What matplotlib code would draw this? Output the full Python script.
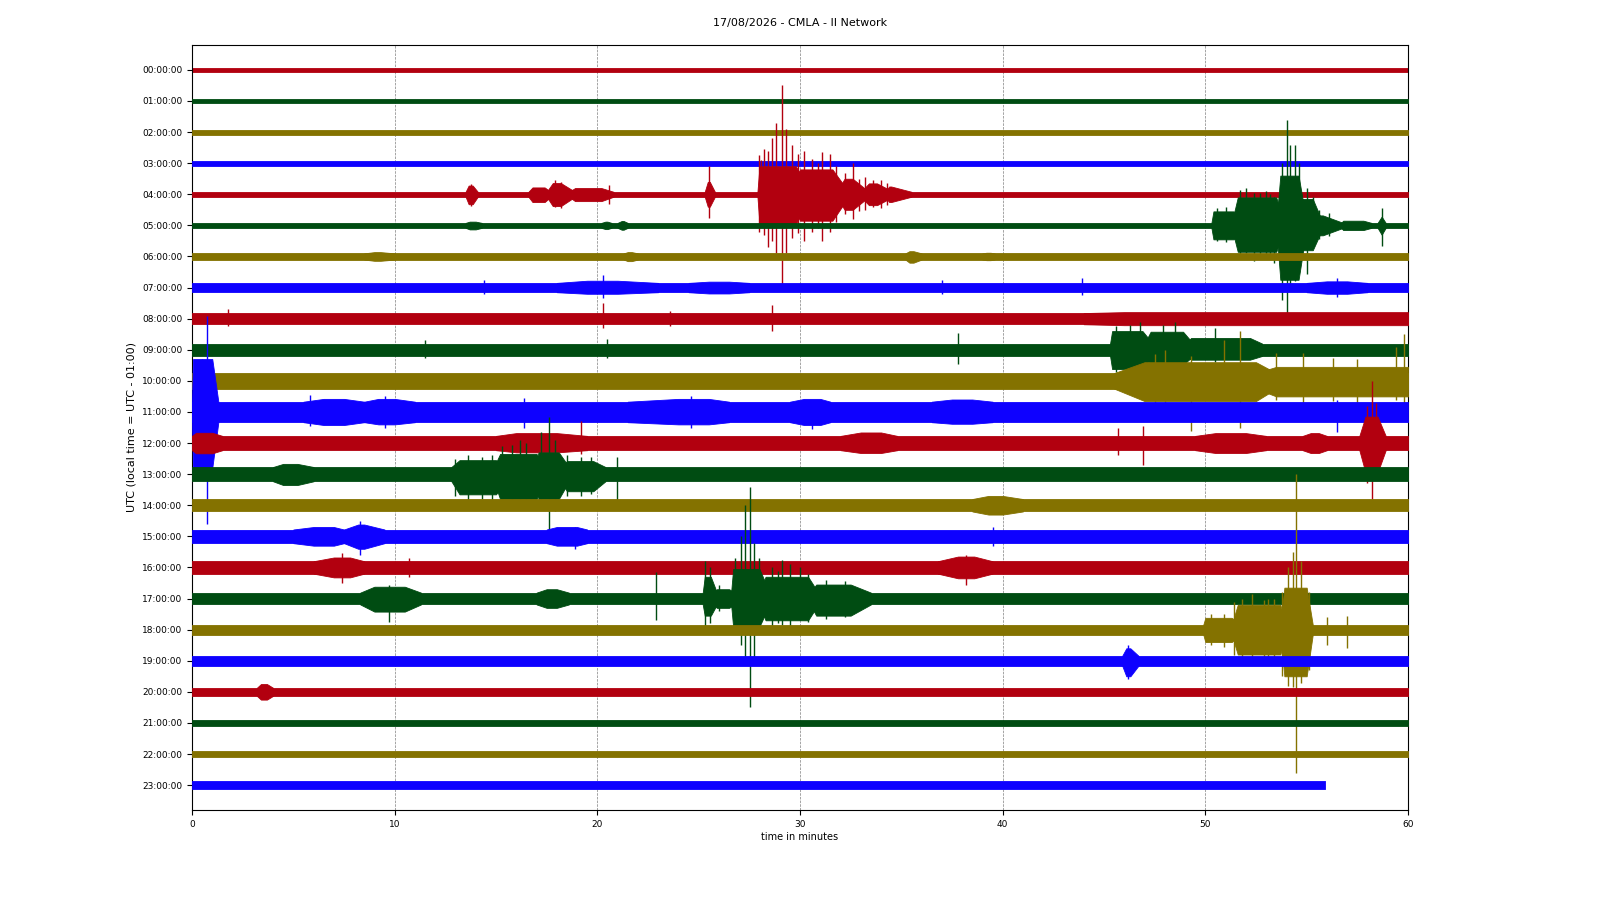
import matplotlib
matplotlib.use('Agg')
import matplotlib.pyplot as plt

# helicorder rows, one per hour
hours = ['00:00:00', '01:00:00', '02:00:00', '03:00:00', '04:00:00', '05:00:00',
         '06:00:00', '07:00:00', '08:00:00', '09:00:00', '10:00:00', '11:00:00',
         '12:00:00', '13:00:00', '14:00:00', '15:00:00', '16:00:00', '17:00:00',
         '18:00:00', '19:00:00', '20:00:00', '21:00:00', '22:00:00', '23:00:00']
trace_colors = ['#B2000F', '#004C12', '#847200', '#0E01FF']

# background noise half-width of each row (in row spacings)
noise_amp = [0.075, 0.075, 0.08, 0.075, 0.08, 0.08, 0.1, 0.15, 0.18, 0.2, 0.25, 0.33,
             0.23, 0.23, 0.2, 0.22, 0.2, 0.19, 0.16, 0.16, 0.13, 0.1, 0.11, 0.13]
trace_end = [60] * 23 + [55.9]

# wave trains: (row, start, rise end, decay start, end, half-width up, half-width down)
bursts = [
    (4, 13.5, 13.65, 13.85, 14.1, 0.28, 0.32),
    (4, 16.6, 16.8, 17.4, 17.7, 0.22, 0.25),
    (4, 17.5, 17.8, 18.2, 18.9, 0.36, 0.38),
    (4, 18.6, 18.9, 20.2, 20.8, 0.2, 0.22),
    (4, 25.3, 25.45, 25.55, 25.8, 0.4, 0.4),
    (4, 27.9, 28.0, 29.8, 30.5, 0.9, 0.95),
    (4, 29.5, 30.0, 31.6, 32.4, 0.8, 0.85),
    (4, 31.8, 32.2, 32.6, 33.4, 0.5, 0.5),
    (4, 33.0, 33.4, 33.8, 34.6, 0.35, 0.35),
    (4, 34.2, 34.4, 34.5, 35.5, 0.25, 0.25),
    (5, 13.5, 13.7, 14.0, 14.3, 0.12, 0.13),
    (5, 20.2, 20.4, 20.5, 20.7, 0.12, 0.12),
    (5, 21.0, 21.2, 21.3, 21.5, 0.14, 0.14),
    (5, 50.3, 50.4, 51.4, 51.8, 0.45, 0.45),
    (5, 51.3, 51.6, 53.5, 53.9, 0.9, 0.85),
    (5, 53.5, 53.7, 54.6, 55.0, 1.6, 1.75),
    (5, 54.5, 54.8, 55.3, 55.8, 0.85, 0.8),
    (5, 55.4, 55.6, 55.8, 56.8, 0.32, 0.32),
    (5, 56.7, 56.8, 57.8, 58.2, 0.15, 0.15),
    (5, 58.5, 58.7, 58.7, 58.9, 0.28, 0.3),
    (6, 8.5, 9.0, 9.3, 10.0, 0.14, 0.14),
    (6, 21.3, 21.5, 21.7, 22.0, 0.14, 0.15),
    (6, 35.2, 35.4, 35.6, 36.0, 0.17, 0.2),
    (6, 39.0, 39.2, 39.4, 39.6, 0.12, 0.12),
    (7, 18.0, 19.5, 21.0, 23.0, 0.22, 0.2),
    (7, 24.5, 25.5, 26.5, 27.5, 0.19, 0.19),
    (7, 55.0, 56.0, 57.0, 58.0, 0.2, 0.2),
    (8, 44.0, 46.0, 60.0, 60.0, 0.21, 0.21),
    (9, 45.3, 45.4, 46.9, 47.4, 0.6, 0.62),
    (9, 47.0, 47.3, 48.9, 49.4, 0.58, 0.48),
    (9, 49.0, 49.3, 52.2, 52.8, 0.38, 0.32),
    (10, 45.5, 47.0, 52.5, 53.5, 0.6, 0.65),
    (10, 52.5, 53.5, 60.0, 60.0, 0.45, 0.5),
    (11, 0.0, 0.05, 1.0, 1.3, 1.7, 1.8),
    (11, 5.5, 6.5, 7.5, 8.5, 0.42, 0.42),
    (11, 8.5, 9.2, 10.0, 11.0, 0.42, 0.4),
    (11, 21.5, 24.0, 25.5, 26.5, 0.42, 0.4),
    (11, 29.5, 30.2, 31.0, 31.5, 0.42, 0.42),
    (11, 36.5, 37.5, 38.5, 39.5, 0.4, 0.38),
    (12, 0.0, 0.2, 1.0, 1.5, 0.33, 0.33),
    (12, 15.0, 16.0, 18.0, 19.5, 0.32, 0.3),
    (12, 32.0, 33.0, 34.0, 34.8, 0.34, 0.32),
    (12, 49.5, 50.5, 52.0, 53.0, 0.32, 0.32),
    (12, 54.8, 55.2, 55.6, 56.0, 0.32, 0.32),
    (12, 57.6, 57.9, 58.5, 58.9, 0.85, 0.95),
    (13, 4.0, 4.5, 5.2, 6.0, 0.33, 0.35),
    (13, 12.8, 13.2, 15.0, 15.5, 0.45, 0.65),
    (13, 14.9, 15.2, 17.0, 17.4, 0.65, 0.8),
    (13, 16.9, 17.1, 18.1, 18.6, 0.7, 0.8),
    (13, 18.2, 18.5, 19.8, 20.4, 0.42, 0.55),
    (14, 38.5, 39.3, 40.0, 41.0, 0.3, 0.3),
    (15, 5.0, 6.0, 7.0, 7.5, 0.3, 0.3),
    (15, 7.5, 8.2, 8.5, 9.5, 0.38, 0.4),
    (15, 17.5, 18.0, 19.0, 19.5, 0.3, 0.3),
    (16, 6.0, 7.0, 7.8, 8.5, 0.32, 0.32),
    (16, 36.8, 37.8, 38.6, 39.5, 0.35, 0.35),
    (17, 8.3, 9.0, 10.5, 11.3, 0.38, 0.42),
    (17, 17.0, 17.5, 18.0, 18.6, 0.3, 0.3),
    (17, 25.2, 25.3, 25.6, 25.9, 0.7, 0.55),
    (17, 25.7, 25.9, 26.5, 26.8, 0.3, 0.3),
    (17, 26.6, 26.7, 28.0, 28.5, 0.95, 0.9),
    (17, 28.0, 28.3, 30.4, 30.9, 0.7, 0.7),
    (17, 30.5, 30.8, 32.5, 33.5, 0.45, 0.55),
    (18, 49.9, 50.0, 51.3, 51.7, 0.38, 0.4),
    (18, 51.3, 51.6, 53.7, 54.0, 0.8, 0.8),
    (18, 53.7, 53.9, 55.0, 55.3, 1.35, 1.5),
    (19, 45.9, 46.1, 46.3, 46.7, 0.4, 0.5),
    (20, 3.2, 3.4, 3.7, 4.0, 0.25, 0.25),
]

# isolated large excursions: (row, minute, reach up, reach down)
spikes = [
    (4, 13.75, 0.33, 0.38), (4, 17.9, 0.45, 0.4), (4, 18.2, 0.4, 0.45), (4, 20.6, 0.3, 0.3),
    (4, 25.5, 0.9, 0.75), (4, 28.0, 1.25, 1.2), (4, 28.1, 1.1, 1.0), (4, 28.2, 1.45, 1.3),
    (4, 28.4, 1.4, 1.7), (4, 28.6, 1.8, 1.5), (4, 28.8, 2.3, 1.9), (4, 29.1, 3.5, 2.9),
    (4, 29.3, 2.1, 1.9), (4, 29.6, 1.6, 1.4), (4, 29.9, 1.3, 1.25), (4, 30.2, 1.4, 1.5),
    (4, 30.6, 1.15, 1.2), (4, 30.9, 1.0, 1.1), (4, 31.1, 1.35, 1.5), (4, 31.5, 1.3, 1.2),
    (4, 31.8, 0.9, 0.9), (4, 32.2, 0.7, 0.65), (4, 32.6, 1.0, 0.8), (4, 32.9, 0.5, 0.55),
    (4, 33.2, 0.55, 0.5), (4, 33.6, 0.45, 0.4), (4, 34.0, 0.45, 0.45), (4, 34.3, 0.35, 0.35),
    (5, 50.6, 0.55, 0.5), (5, 51.0, 0.6, 0.55), (5, 51.7, 1.15, 1.0), (5, 52.0, 1.2, 0.9),
    (5, 52.4, 1.05, 1.15), (5, 52.7, 1.05, 1.05), (5, 53.0, 1.1, 1.0), (5, 53.2, 1.0, 0.95),
    (5, 53.4, 0.9, 1.2), (5, 53.8, 2.0, 2.4), (5, 54.05, 3.4, 2.9), (5, 54.2, 2.6, 2.0),
    (5, 54.4, 2.6, 1.8), (5, 54.6, 2.0, 1.5), (5, 55.0, 1.2, 1.55), (5, 55.3, 0.9, 0.7),
    (5, 55.6, 0.5, 0.45), (5, 56.1, 0.4, 0.35), (5, 58.7, 0.57, 0.65),
    (7, 14.4, 0.25, 0.2), (7, 20.3, 0.4, 0.35), (7, 37.0, 0.25, 0.2), (7, 43.9, 0.3, 0.25),
    (7, 56.5, 0.3, 0.3),
    (8, 1.8, 0.3, 0.25), (8, 20.3, 0.5, 0.3), (8, 23.6, 0.25, 0.25), (8, 28.6, 0.45, 0.4),
    (9, 11.5, 0.3, 0.25), (9, 20.5, 0.35, 0.25), (9, 37.8, 0.55, 0.45), (9, 45.6, 0.75, 0.7),
    (9, 46.3, 0.8, 0.65), (9, 46.8, 0.9, 0.6), (9, 47.9, 0.8, 0.5), (9, 48.5, 0.9, 0.6),
    (9, 50.5, 0.7, 0.4),
    (10, 47.5, 0.85, 0.75), (10, 48.0, 1.0, 0.9), (10, 49.3, 0.8, 1.6), (10, 50.9, 1.3, 0.6),
    (10, 51.7, 1.6, 1.5), (10, 53.5, 0.9, 0.6), (10, 54.8, 0.9, 0.7), (10, 56.3, 0.75, 0.65),
    (10, 57.5, 0.7, 0.7), (10, 59.4, 1.1, 0.6), (10, 59.8, 1.5, 0.7),
    (11, 0.2, 1.6, 1.2), (11, 0.5, 1.7, 1.4), (11, 0.75, 3.1, 3.6), (11, 5.8, 0.55, 0.45),
    (11, 9.5, 0.5, 0.5), (11, 16.4, 0.45, 0.5), (11, 24.6, 0.5, 0.5), (11, 30.6, 0.4, 0.55),
    (11, 56.5, 0.4, 0.65),
    (12, 19.2, 0.7, 0.35), (12, 45.7, 0.5, 0.4), (12, 46.9, 0.55, 0.7), (12, 58.0, 1.2, 1.3),
    (12, 58.2, 2.0, 1.8), (12, 58.4, 1.3, 1.1),
    (13, 13.0, 0.5, 0.7), (13, 13.6, 0.6, 0.85), (13, 14.3, 0.55, 0.8), (13, 14.8, 0.6, 0.85),
    (13, 15.3, 0.9, 0.9), (13, 15.8, 0.95, 1.0), (13, 16.2, 1.1, 0.95), (13, 16.5, 1.0, 1.0),
    (13, 17.2, 1.35, 1.1), (13, 17.6, 1.85, 1.9), (13, 17.9, 1.1, 1.2), (13, 18.5, 0.6, 0.7),
    (13, 19.2, 0.55, 0.7), (13, 19.7, 0.55, 0.65), (13, 20.95, 0.55, 1.0),
    (15, 8.3, 0.5, 0.6), (15, 18.9, 0.3, 0.4), (15, 39.5, 0.3, 0.3),
    (16, 7.4, 0.45, 0.5), (16, 10.7, 0.3, 0.3), (16, 38.2, 0.4, 0.55),
    (17, 9.7, 0.45, 0.75), (17, 22.9, 0.85, 0.7), (17, 25.3, 1.2, 0.9), (17, 25.55, 1.0, 0.8),
    (17, 26.0, 0.45, 0.4), (17, 26.8, 1.3, 1.1), (17, 27.1, 2.0, 1.5), (17, 27.3, 3.0, 2.0),
    (17, 27.55, 3.6, 3.5), (17, 27.75, 1.8, 2.0), (17, 28.0, 1.3, 1.0), (17, 28.6, 1.0, 0.9),
    (17, 28.9, 0.9, 0.8), (17, 29.1, 1.25, 0.85), (17, 29.5, 1.1, 0.9), (17, 30.0, 1.0, 0.7),
    (17, 30.4, 0.8, 0.75), (17, 31.3, 0.6, 0.65), (17, 32.2, 0.55, 0.6),
    (18, 50.3, 0.5, 0.5), (18, 50.9, 0.5, 0.55), (18, 51.4, 0.9, 0.8), (18, 51.8, 1.0, 0.9),
    (18, 52.3, 1.15, 0.9), (18, 52.9, 0.95, 1.0), (18, 53.1, 1.0, 0.9), (18, 53.4, 1.0, 0.95),
    (18, 53.8, 1.2, 1.5), (18, 54.1, 2.0, 1.8), (18, 54.35, 2.5, 1.85), (18, 54.45, 5.0, 4.6),
    (18, 54.7, 2.2, 1.7), (18, 55.1, 1.2, 1.3), (18, 56.0, 0.4, 0.5), (18, 57.0, 0.45, 0.6),
    (19, 46.2, 0.5, 0.6),
]

fig = plt.figure(figsize=(16, 9), dpi=100)
ax = fig.add_axes([0.12, 0.10, 0.76, 0.85])

for row in range(len(hours)):
    col = trace_colors[row % 4]
    a = noise_amp[row]
    z = 2 + row
    ax.fill_between([0, trace_end[row]], [row - a, row - a], [row + a, row + a],
                    color=col, lw=0.6, zorder=z)
    for b in bursts:
        if b[0] != row:
            continue
        xs = [b[1], b[2], b[3], b[4]]
        top = [row - a, row - b[5], row - b[5], row - a]
        bot = [row + a, row + b[6], row + b[6], row + a]
        ax.fill_between(xs, top, bot, color=col, lw=0.6, zorder=z)
    for s in spikes:
        if s[0] == row:
            ax.vlines(s[1], row - s[2], row + s[3], color=col, lw=1.0, zorder=z)

ax.set_xlim(0, 60)
ax.set_ylim(23.8, -0.8)
ax.set_yticks(range(len(hours)))
ax.set_yticklabels(hours)
ax.set_xticks([0, 10, 20, 30, 40, 50, 60])
ax.tick_params(labelsize=6.5)
ax.grid(axis='x', color='gray', ls='--', lw=0.5)
ax.set_axisbelow(True)
ax.set_xlabel('time in minutes', fontsize=7, labelpad=2)
ax.set_ylabel('UTC (local time = UTC - 01:00)', fontsize=8)
fig.suptitle('17/08/2026 - CMLA - II Network', fontsize=8)

fig.savefig('out.png', dpi=100)
